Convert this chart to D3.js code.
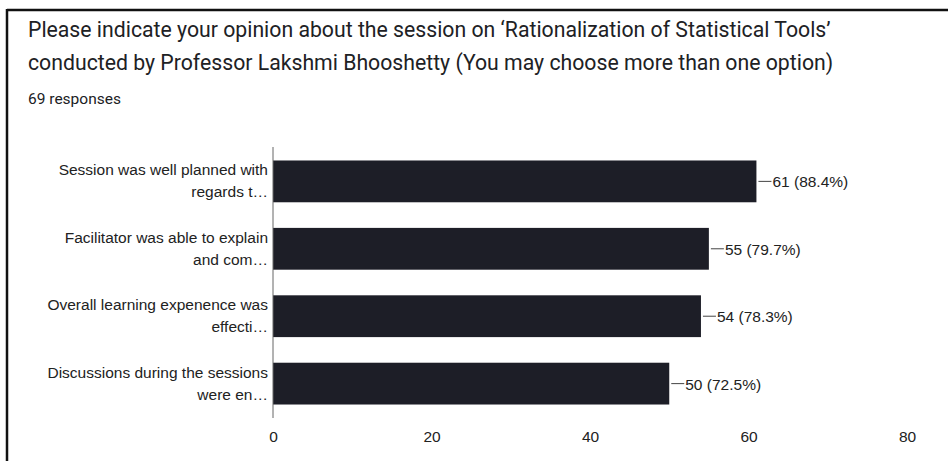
<!DOCTYPE html>
<html><head><meta charset="utf-8">
<script src="https://cdn.jsdelivr.net/npm/d3@7/dist/d3.min.js"></script>
<style>body{margin:0;background:#fff}svg{display:block}</style>
</head><body>
<svg id="c" width="948" height="461"></svg>
<script>
const titleLines = ["Please indicate your opinion about the session on \u2018Rationalization of Statistical Tools\u2019",
  "conducted by Professor Lakshmi Bhooshetty (You may choose more than one option)"];
const subtitle = "69 responses";
const categories = [
  ["Session was well planned with", "regards t\u2026"],
  ["Facilitator was able to explain", "and com\u2026"],
  ["Overall learning expenence was", "effecti\u2026"],
  ["Discussions during the sessions", "were en\u2026"]
];
const values = [61, 55, 54, 50];
const valueLabels = ["61 (88.4%)", "55 (79.7%)", "54 (78.3%)", "50 (72.5%)"];
const ticks = [0, 20, 40, 60, 80];

const svg = d3.select("#c");
// frame
svg.append("line").attr("x1",7).attr("x2",948).attr("y1",10).attr("y2",10).attr("stroke","#111").attr("stroke-width",2.5);
svg.append("line").attr("x1",7).attr("x2",7).attr("y1",9).attr("y2",461).attr("stroke","#111").attr("stroke-width",2.5);

const tFont = "Roboto, 'Open Sans', sans-serif";
const t = svg.selectAll("text.title").data(titleLines).join("text").attr("class","title")
  .attr("x",28).attr("y",(d,i)=>37+i*33)
  .attr("font-family",tFont).attr("font-size",18).attr("fill","#202124")
  .text(d=>d);
// fit first title line to reference width (~803px)
const w0 = t.node().getComputedTextLength();
const fs = Math.min(22, 18*803/w0);
t.attr("font-size",fs);
svg.append("text").attr("x",28).attr("y",104).attr("font-family",tFont).attr("font-size",15.5).attr("fill","#202124").text(subtitle);

const x = d3.scaleLinear().domain([0,80]).range([273,907]);
const y = d3.scaleBand().domain(d3.range(values.length)).range([147,418]).paddingInner(0.38).paddingOuter(0.2);

svg.selectAll("rect.bar").data(values).join("rect").attr("class","bar")
  .attr("x",x(0)).attr("y",(d,i)=>y(i)).attr("width",d=>x(d)-x(0)).attr("height",y.bandwidth())
  .attr("fill","#1d1e27");

svg.append("line").attr("x1",x(0)).attr("x2",x(0)).attr("y1",147).attr("y2",418).attr("stroke","#666").attr("stroke-width",1);

const font = "'Liberation Sans', Arial, sans-serif";
const fsz = 15.5;
const g = svg.selectAll("g.cat").data(categories).join("g").attr("class","cat");
g.append("text").attr("x",268).attr("y",(d,i)=>y(i)+y.bandwidth()/2-6).attr("text-anchor","end")
  .attr("font-family",font).attr("font-size",fsz).attr("fill","#222").text(d=>d[0]);
g.append("text").attr("x",268).attr("y",(d,i)=>y(i)+y.bandwidth()/2+16).attr("text-anchor","end")
  .attr("font-family",font).attr("font-size",fsz).attr("fill","#222").text(d=>d[1]);

svg.selectAll("line.lead").data(values).join("line").attr("class","lead")
  .attr("x1",d=>x(d)+2).attr("x2",d=>x(d)+15).attr("y1",(d,i)=>y(i)+y.bandwidth()/2).attr("y2",(d,i)=>y(i)+y.bandwidth()/2)
  .attr("stroke","#444").attr("stroke-width",1);
svg.selectAll("text.val").data(values).join("text").attr("class","val")
  .attr("x",d=>x(d)+16).attr("y",(d,i)=>y(i)+y.bandwidth()/2+6)
  .attr("font-family",font).attr("font-size",fsz).attr("fill","#222").text((d,i)=>valueLabels[i]);

const ax = svg.append("g").attr("transform","translate(0,418)")
  .call(d3.axisBottom(x).tickValues(ticks).tickSize(0).tickPadding(13));
ax.select(".domain").remove();
ax.selectAll("text").attr("font-family",font).attr("font-size",fsz).attr("fill","#222");
</script>
</body></html>
